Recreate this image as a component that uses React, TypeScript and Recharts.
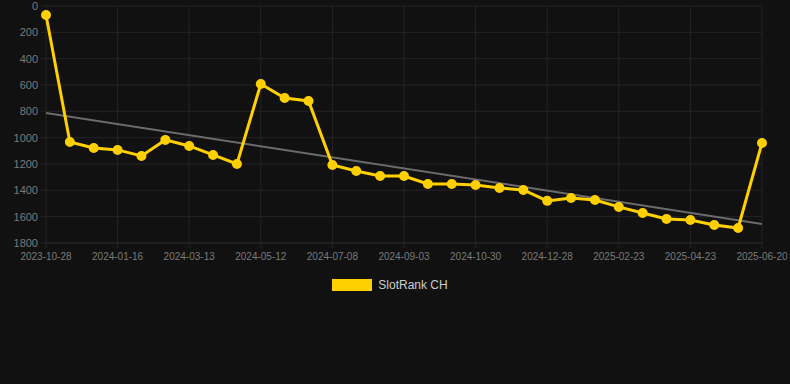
import { LineChart, Line, XAxis, YAxis, CartesianGrid, Legend } from 'recharts'

const dates = [
  '2023-10-28', '2023-11-24', '2023-12-21', '2024-01-16', '2024-02-04', '2024-02-23',
  '2024-03-13', '2024-04-02', '2024-04-22', '2024-05-12', '2024-05-31', '2024-06-19',
  '2024-07-08', '2024-07-27', '2024-08-15', '2024-09-03', '2024-09-22', '2024-10-11',
  '2024-10-30', '2024-11-19', '2024-12-09', '2024-12-28', '2025-01-16', '2025-02-04',
  '2025-02-23', '2025-03-14', '2025-04-03', '2025-04-23', '2025-05-12', '2025-06-01',
  '2025-06-20',
]

const rank = [
  68, 1033, 1078, 1093, 1139, 1017, 1063, 1131, 1200, 592, 699, 721,
  1207, 1253, 1291, 1291, 1352, 1352, 1359, 1382, 1397, 1480, 1458, 1473,
  1526, 1572, 1617, 1625, 1663, 1686, 1040,
]

// trend line end points (first and last date)
const trendEnds = [812, 1655]

const yTicks = [0, 200, 400, 600, 800, 1000, 1200, 1400, 1600, 1800]

const YELLOW = '#ffd000'

const data = dates.map((date, i) => ({
  date,
  rank: rank[i],
  trend: i === 0 ? trendEnds[0] : i === dates.length - 1 ? trendEnds[1] : null,
}))

const renderLegend = () => (
  <div style={{ display: 'flex', justifyContent: 'center', alignItems: 'center', height: 20, paddingRight: 10 }}>
    <span style={{ display: 'inline-block', width: 40, height: 12, background: YELLOW, marginRight: 6 }} />
    <span style={{ fontSize: 12, color: '#cccccc', fontFamily: 'Liberation Sans, Arial, sans-serif' }}>SlotRank CH</span>
  </div>
)

export default function App() {
  return (
    <div style={{ width: 790, height: 384, background: '#111111', fontFamily: 'Liberation Sans, Arial, sans-serif' }}>
      <style>{'body{margin:0}'}</style>
      <LineChart
        width={790}
        height={384}
        data={data}
        margin={{ top: 6, right: 28, left: 0, bottom: 89 }}
      >
        <CartesianGrid stroke="#242424" strokeWidth={1} />
        <XAxis
          dataKey="date"
          interval={2}
          height={32}
          tick={{ fontSize: 10, fill: '#7a7a7a' }}
          tickLine={{ stroke: '#242424' }}
          tickSize={5}
          tickMargin={5}
          axisLine={{ stroke: '#242424' }}
        />
        <YAxis
          width={46}
          reversed
          domain={[0, 1800]}
          ticks={yTicks}
          interval={0}
          tick={{ fontSize: 11, fill: '#7a7a7a' }}
          tickLine={{ stroke: '#242424' }}
          tickSize={5}
          tickMargin={3}
          axisLine={false}
        />
        <Legend verticalAlign="bottom" content={renderLegend} wrapperStyle={{ left: 0, width: 790 }} />
        <Line
          dataKey="trend"
          stroke="#6b6b6b"
          strokeWidth={2}
          dot={false}
          connectNulls
          legendType="none"
          isAnimationActive={false}
        />
        <Line
          dataKey="rank"
          name="SlotRank CH"
          stroke={YELLOW}
          strokeWidth={3}
          dot={{ r: 4, fill: YELLOW, stroke: YELLOW, strokeWidth: 2 }}
          isAnimationActive={false}
        />
      </LineChart>
    </div>
  )
}
